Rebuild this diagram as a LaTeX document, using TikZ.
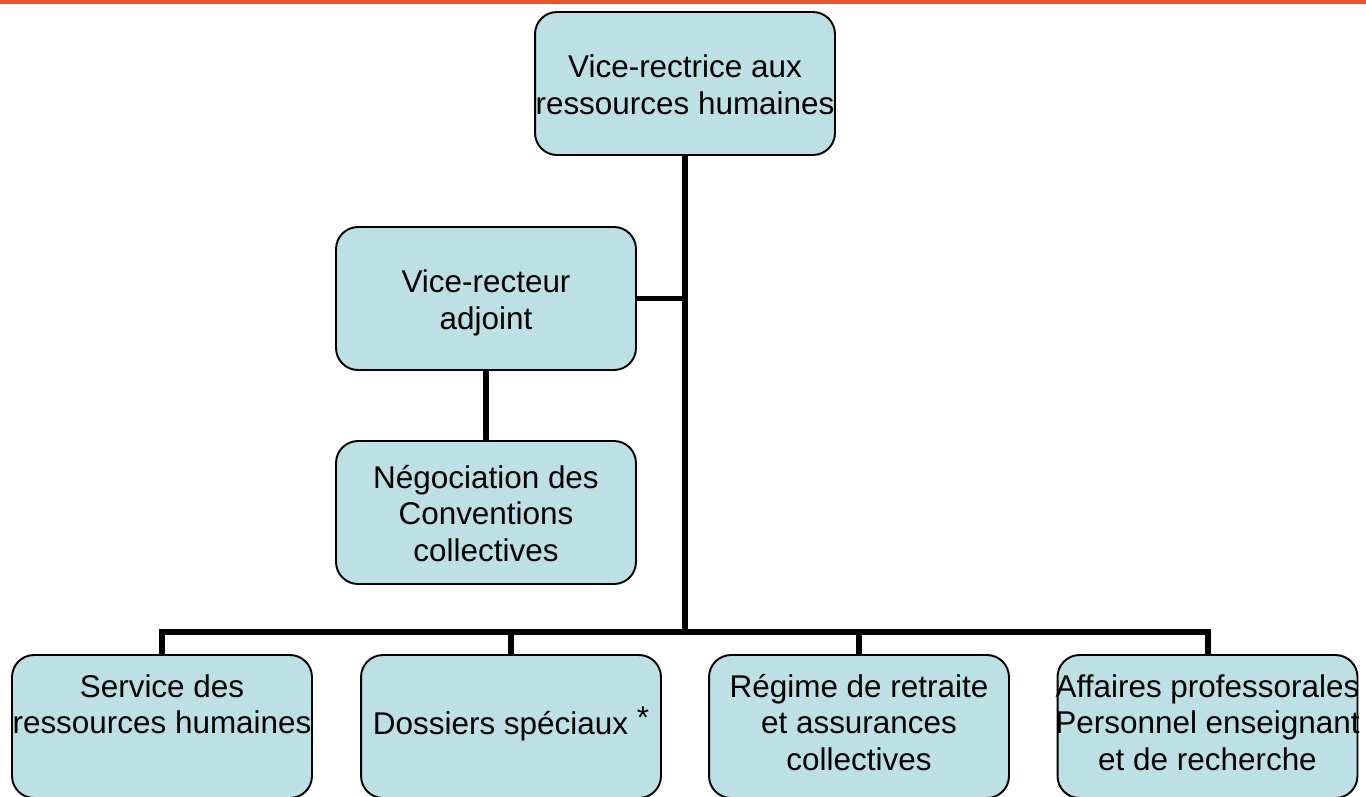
\documentclass[tikz,border=0pt]{standalone}
\usepackage{fontspec}
\setmainfont{Liberation Sans}
\usetikzlibrary{calc}

\definecolor{boxfill}{HTML}{BCE0E3}
\definecolor{topband}{HTML}{E0582B}

% text lines centred on the box, allowed to spill over its border
% (optional arg: how far the text sits below the centre)
\newcommand\boxlines[2][0cm]{\raisebox{-#1}[\height][\depth]{\makebox[0pt]{\begin{tabular}{@{}c@{}}#2\end{tabular}}}}

\begin{document}
\begin{tikzpicture}[x=0.02cm, y=-0.02cm]
    % --- Dimensions (in pixels of the page) ---
    \def\PageW{1366}
    \def\PageH{796}
    \def\BusY{632}      % y of the horizontal bus above the bottom row
    \def\TrunkX{685}    % x of the main vertical trunk
    \def\RowY{726.5}    % centre y of the bottom row

    % --- Styles ---
    \tikzset{
        unit box/.style={
            draw=black,
            fill=boxfill,
            line width=1.1pt,
            rounded corners=0.44cm,
            minimum width=6cm,
            minimum height=2.86cm,
            inner sep=0pt,
            font=\fontsize{17.9pt}{20.8pt}\selectfont
        },
        link line/.style={line width=3.4pt}
    }

    \useasboundingbox (0,0) rectangle (\PageW,\PageH);
    \clip (0,0) rectangle (\PageW,\PageH);

    % Top band
    \fill[topband] (0,0) rectangle (\PageW,3.5);

    % =========================================================
    % 1) UNITS
    % =========================================================
    \node[unit box] (top) at (\TrunkX,83.5)
        {\boxlines[0.1cm]{Vice-rectrice aux\\ressources humaines}};
    \node[unit box] (adjoint) at (486,298.5)
        {\boxlines[0.1cm]{Vice-recteur\\adjoint}};
    \node[unit box] (nego) at (486,512.5)
        {\boxlines[0.1cm]{Négociation des\\Conventions\\collectives}};

    % --- bottom row ---
    \node[unit box] (srh) at (162,\RowY)
        {\boxlines{Service des\\ressources humaines\\~}};
    \node[unit box] (dossiers) at (511,\RowY)
        {\boxlines{Dossiers spéciaux \raisebox{0.35ex}{*}}};
    \node[unit box] (regime) at (859,\RowY)
        {\boxlines{Régime de retraite\\et assurances\\collectives}};
    \node[unit box] (affaires) at (1207.5,\RowY)
        {\boxlines{Affaires professorales\\Personnel enseignant\\et de recherche}};

    % =========================================================
    % 2) CONNECTORS
    % =========================================================
    \coordinate (bus) at (\TrunkX,\BusY);

    \draw[link line] (top.south) -- (bus);
    \draw[link line] (adjoint.east) -- (adjoint.east -| bus);
    \draw[link line] (adjoint.south) -- (nego.north);

    \draw[link line] (srh.north) |- (bus) -| (affaires.north);
    \draw[link line] (dossiers.north) -- (dossiers.north |- bus);
    \draw[link line] (regime.north) -- (regime.north |- bus);

\end{tikzpicture}
\end{document}
